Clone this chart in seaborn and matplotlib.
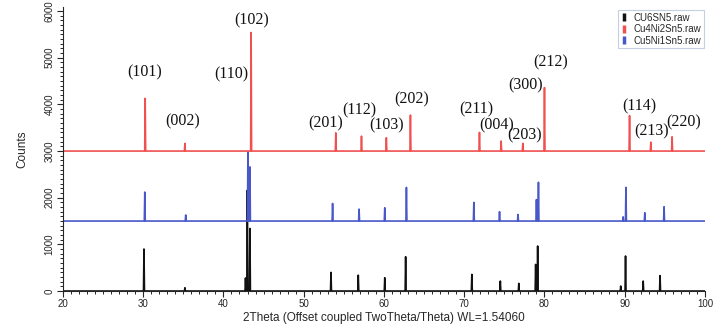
import numpy as np
import pandas as pd
import matplotlib
matplotlib.use("Agg")
import matplotlib.pyplot as plt
from matplotlib.lines import Line2D
from matplotlib.ticker import MultipleLocator
import seaborn as sns

# ---------------- data ----------------
series_names = ["CU6SN5.raw", "Cu4Ni2Sn5.raw", "Cu5Ni1Sn5.raw"]
series_colors = ["#111111", "#f05050", "#4858c8"]
series_offsets = [0, 3000, 1500]

black_pos = [30.1, 35.2, 42.75, 42.98, 43.3, 53.4, 56.8, 60.1, 62.7, 70.95, 74.5, 76.8, 78.9, 79.15, 89.5, 90.1, 92.3, 94.4]
black_int = [900, 70, 280, 2160, 1340, 400, 340, 285, 735, 357, 214, 164, 570, 964, 107, 750, 214, 330]

red_pos = [30.25, 35.2, 43.45, 54.0, 57.2, 60.3, 63.3, 71.9, 74.6, 77.3, 80.0, 90.6, 93.25, 95.9]
red_int = [1130, 165, 2540, 390, 320, 285, 770, 400, 215, 165, 1360, 760, 190, 305]

blue_pos = [30.2, 35.3, 43.05, 43.3, 53.6, 56.9, 60.1, 62.8, 71.2, 74.4, 76.7, 79.0, 79.25, 89.8, 90.15, 92.5, 94.9]
blue_int = [620, 130, 1480, 1160, 377, 256, 284, 720, 400, 200, 140, 460, 830, 90, 720, 177, 306]

hkl_labels = ["(101)", "(002)", "(110)", "(102)", "(201)", "(112)", "(103)", "(202)",
              "(211)", "(004)", "(203)", "(300)", "(212)", "(114)", "(213)", "(220)"]
hkl_x = [30.2, 34.9, 41.0, 43.5, 52.75, 56.9, 60.3, 63.4, 71.5, 74.1, 77.5, 77.6, 80.75, 91.8, 93.3, 97.4]
hkl_y = [4690, 3630, 4650, 5790, 3590, 3876, 3555, 4105, 3900, 3555, 3340, 4410, 4910, 3960, 3425, 3605]

x_min, x_max = 20, 100
y_min, y_max = 0, 6090

# ---------------- build stick profiles ----------------
half_w = 0.06
rows = []
all_pos = [black_pos, red_pos, blue_pos]
all_int = [black_int, red_int, blue_int]
for name, off, pos, inten in zip(series_names, series_offsets, all_pos, all_int):
    pts = [(x_min, off), (x_max, off)]
    for p, h in zip(pos, inten):
        pts += [(p - half_w, off), (p, off + h), (p + half_w, off)]
    pts.sort()
    for x, y in pts:
        rows.append({"theta": x, "counts": y, "sample": name})
df = pd.DataFrame(rows)

# ---------------- plot ----------------
sns.set_style("ticks")
plt.rcParams["font.family"] = ["Liberation Sans", "DejaVu Sans"]

fig = plt.figure(figsize=(7.15, 3.27), dpi=100)
ax = fig.add_axes([0.088, 0.110, 0.898, 0.869])

draw_order = [series_names[0], series_names[2], series_names[1]]
sns.lineplot(data=df, x="theta", y="counts", hue="sample",
             hue_order=draw_order,
             palette={n: c for n, c in zip(series_names, series_colors)},
             estimator=None, sort=False, linewidth=1.2, ax=ax, legend=False)

ax.set_xlim(x_min, x_max)
ax.set_ylim(y_min, y_max)
ax.spines["top"].set_visible(False)
ax.spines["right"].set_visible(False)
ax.xaxis.set_major_locator(MultipleLocator(10))
ax.xaxis.set_minor_locator(MultipleLocator(1))
ax.yaxis.set_major_locator(MultipleLocator(1000))
ax.yaxis.set_minor_locator(MultipleLocator(100))
ax.tick_params(axis="both", which="major", length=4, width=0.8, labelsize=7, direction="out", pad=2)
ax.tick_params(axis="both", which="minor", length=2.2, width=0.7, direction="out")
for lbl in ax.get_yticklabels():
    lbl.set_rotation(90)
    lbl.set_va("center")

ax.set_xlabel("2Theta (Offset coupled TwoTheta/Theta) WL=1.54060", fontsize=8.5, labelpad=2)
ax.set_ylabel("Counts", fontsize=8.5, labelpad=12)

for t, x, y in zip(hkl_labels, hkl_x, hkl_y):
    ax.text(x, y, t, ha="center", va="center", fontsize=11.5,
            family=["Liberation Serif", "DejaVu Serif"], color="#111111")

handles = [Line2D([], [], color=c, marker="|", linestyle="none",
                  markersize=6, markeredgewidth=2.5) for c in series_colors]
leg = ax.legend(handles, series_names, loc="upper right",
                bbox_to_anchor=(0.998, 0.99), fontsize=7, frameon=True,
                fancybox=False, handlelength=0.8, handletextpad=0.5,
                borderpad=0.3, labelspacing=0.15, borderaxespad=0)
leg.get_frame().set_edgecolor("#b8c4d8")
leg.get_frame().set_linewidth(0.8)

fig.savefig("out.png", dpi=100)
